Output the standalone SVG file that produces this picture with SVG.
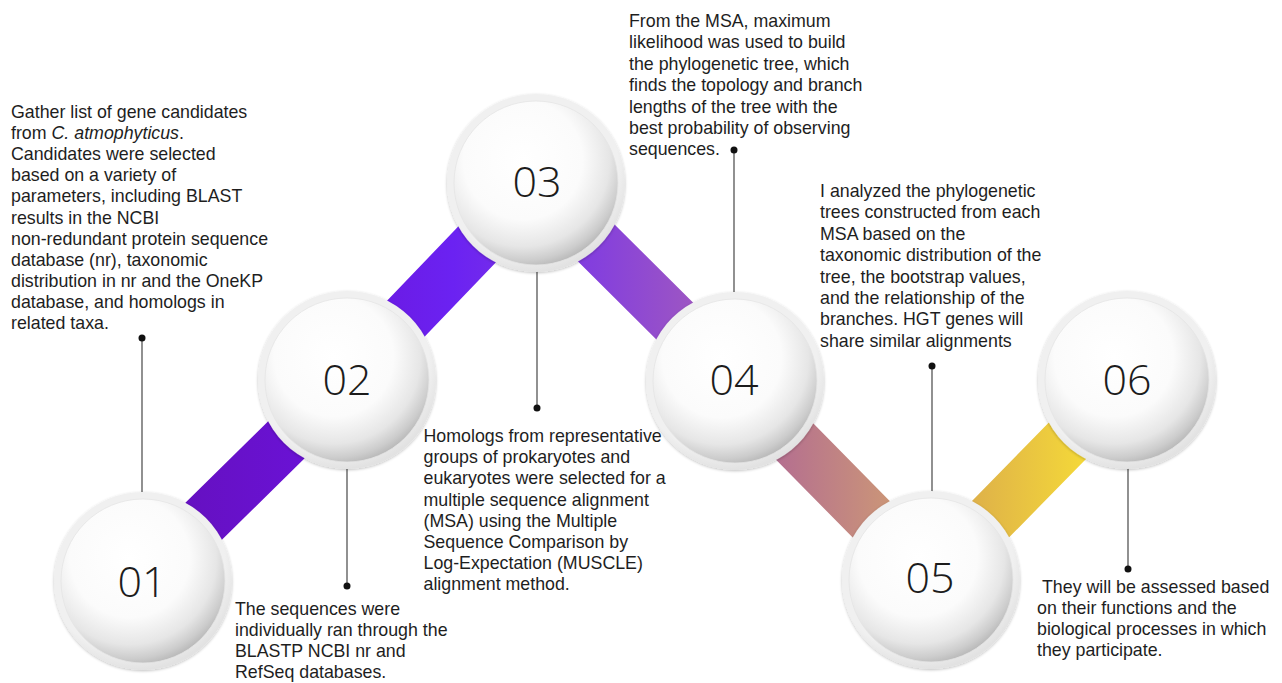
<svg xmlns="http://www.w3.org/2000/svg" width="1282" height="683" viewBox="0 0 1282 683">
<defs>
<linearGradient id="barGrad" gradientUnits="userSpaceOnUse" x1="180" y1="0" x2="1090" y2="0">
<stop offset="0" stop-color="#6510c0"/>
<stop offset="0.13" stop-color="#6a12d4"/>
<stop offset="0.3" stop-color="#6b22f2"/>
<stop offset="0.46" stop-color="#8540dc"/>
<stop offset="0.56" stop-color="#9c55c4"/>
<stop offset="0.66" stop-color="#b5708f"/>
<stop offset="0.77" stop-color="#c9927a"/>
<stop offset="0.88" stop-color="#e0b448"/>
<stop offset="1" stop-color="#f5da38"/>
</linearGradient>
<radialGradient id="sphere" cx="0.42" cy="0.36" r="0.66">
<stop offset="0" stop-color="#ffffff"/>
<stop offset="0.55" stop-color="#fbfbfb"/>
<stop offset="0.8" stop-color="#e6e6e6"/>
<stop offset="0.93" stop-color="#cccccc"/>
<stop offset="1" stop-color="#b9b9b9"/>
</radialGradient>
<radialGradient id="ring" cx="0.45" cy="0.4" r="0.6">
<stop offset="0.85" stop-color="#f0f0f0"/>
<stop offset="1" stop-color="#e2e2e2"/>
</radialGradient>
<filter id="shadow" x="-20%" y="-20%" width="140%" height="140%">
<feGaussianBlur in="SourceAlpha" stdDeviation="1.5"/>
<feOffset dx="0" dy="1" result="b"/>
<feComponentTransfer><feFuncA type="linear" slope="0.25"/></feComponentTransfer>
<feMerge><feMergeNode/><feMergeNode in="SourceGraphic"/></feMerge>
</filter>
</defs>
<style>
.ring{fill:url(#ring);filter:url(#shadow)}
.ball{fill:url(#sphere);stroke:#e4e4e4;stroke-width:0.8}
.num{font-family:"Open Sans","DejaVu Sans",sans-serif;font-weight:300;font-size:43px;fill:#1c1c1c;text-anchor:middle}
.desc{font-family:"Liberation Sans",Arial,sans-serif;font-size:17.8px;fill:#1e1e1e}
.lead{stroke:#555555;stroke-width:1.3;fill:none}
.dot{fill:#111111}
</style>
<rect width="1282" height="683" fill="#ffffff"/>
<g id="connectors">
<polyline points="143,581 347,380 536,183 735,381 931,580 1127,380" fill="none" stroke="url(#barGrad)" stroke-width="52" stroke-linejoin="miter"/>
<line class="lead" x1="142" y1="338" x2="142" y2="492"/>
<circle class="dot" cx="142" cy="338" r="3.5"/>
<line class="lead" x1="347" y1="468" x2="347" y2="586"/>
<circle class="dot" cx="347" cy="586" r="3.5"/>
<line class="lead" x1="537" y1="270" x2="537" y2="408"/>
<circle class="dot" cx="537" cy="408" r="3.5"/>
<line class="lead" x1="734" y1="150" x2="734" y2="292"/>
<circle class="dot" cx="734" cy="150" r="3.5"/>
<line class="lead" x1="932" y1="366" x2="932" y2="492"/>
<circle class="dot" cx="932" cy="366" r="3.5"/>
<line class="lead" x1="1128" y1="468" x2="1128" y2="569"/>
<circle class="dot" cx="1128" cy="569" r="3.5"/>
</g>
<g id="node-01">
<circle class="ring" cx="143" cy="581" r="89"/>
<circle class="ball" cx="143" cy="581" r="82"/>
<text class="num" x="142" y="597">01</text>
<text class="desc" x="11" y="118">
<tspan x="11" y="118">Gather list of gene candidates</tspan>
<tspan x="11" y="139.1">from <tspan font-style="italic">C. atmophyticus</tspan>.</tspan>
<tspan x="11" y="160.2">Candidates were selected</tspan>
<tspan x="11" y="181.3">based on a variety of</tspan>
<tspan x="11" y="202.4">parameters, including BLAST</tspan>
<tspan x="11" y="223.5">results in the NCBI</tspan>
<tspan x="11" y="244.6">non-redundant protein sequence</tspan>
<tspan x="11" y="265.7">database (nr), taxonomic</tspan>
<tspan x="11" y="286.8">distribution in nr and the OneKP</tspan>
<tspan x="11" y="307.9">database, and homologs in</tspan>
<tspan x="11" y="329">related taxa.</tspan>
</text>
</g>
<g id="node-02">
<circle class="ring" cx="347" cy="380" r="89"/>
<circle class="ball" cx="347" cy="380" r="82"/>
<text class="num" x="347" y="395">02</text>
<text class="desc">
<tspan x="235" y="615">The sequences were</tspan>
<tspan x="235" y="636">individually ran through the</tspan>
<tspan x="235" y="657">BLASTP NCBI nr and</tspan>
<tspan x="235" y="678">RefSeq databases.</tspan>
</text>
</g>
<g id="node-03">
<circle class="ring" cx="536" cy="183" r="89"/>
<circle class="ball" cx="536" cy="183" r="82"/>
<text class="num" x="537" y="197">03</text>
<text class="desc">
<tspan x="423.5" y="442">Homologs from representative</tspan>
<tspan x="423.5" y="463.2">groups of prokaryotes and</tspan>
<tspan x="423.5" y="484.4">eukaryotes were selected for a</tspan>
<tspan x="423.5" y="505.6">multiple sequence alignment</tspan>
<tspan x="423.5" y="526.8">(MSA) using the Multiple</tspan>
<tspan x="423.5" y="548">Sequence Comparison by</tspan>
<tspan x="423.5" y="569.2">Log-Expectation (MUSCLE)</tspan>
<tspan x="423.5" y="590.4">alignment method.</tspan>
</text>
</g>
<g id="node-04">
<circle class="ring" cx="735" cy="381" r="89"/>
<circle class="ball" cx="735" cy="381" r="82"/>
<text class="num" x="734" y="395">04</text>
<text class="desc">
<tspan x="629" y="27">From the MSA, maximum</tspan>
<tspan x="629" y="48.4">likelihood was used to build</tspan>
<tspan x="629" y="69.8">the phylogenetic tree, which</tspan>
<tspan x="629" y="91.2">finds the topology and branch</tspan>
<tspan x="629" y="112.6">lengths of the tree with the</tspan>
<tspan x="629" y="134">best probability of observing</tspan>
<tspan x="629" y="155.4">sequences.</tspan>
</text>
</g>
<g id="node-05">
<circle class="ring" cx="931" cy="580" r="89"/>
<circle class="ball" cx="931" cy="580" r="82"/>
<text class="num" x="930" y="593">05</text>
<text class="desc">
<tspan x="820" y="197">I analyzed the phylogenetic</tspan>
<tspan x="820" y="218.4">trees constructed from each</tspan>
<tspan x="820" y="239.8">MSA based on the</tspan>
<tspan x="820" y="261.2">taxonomic distribution of the</tspan>
<tspan x="820" y="282.6">tree, the bootstrap values,</tspan>
<tspan x="820" y="304">and the relationship of the</tspan>
<tspan x="820" y="325.4">branches. HGT genes will</tspan>
<tspan x="820" y="346.8">share similar alignments</tspan>
</text>
</g>
<g id="node-06">
<circle class="ring" cx="1127" cy="380" r="89"/>
<circle class="ball" cx="1127" cy="380" r="82"/>
<text class="num" x="1127" y="395">06</text>
<text class="desc">
<tspan x="1042" y="593">They will be assessed based</tspan>
<tspan x="1037" y="614">on their functions and the</tspan>
<tspan x="1037" y="635">biological processes in which</tspan>
<tspan x="1037" y="656">they participate.</tspan>
</text>
</g>
</svg>
